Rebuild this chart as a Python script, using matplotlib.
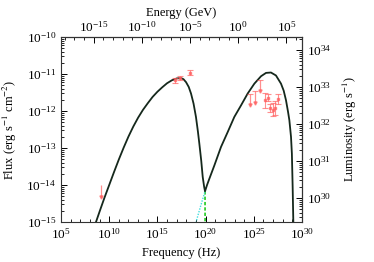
import matplotlib
matplotlib.use("Agg")
import matplotlib.pyplot as plt
import matplotlib.ticker as mticker
import numpy as np

plt.rcParams['font.family'] = ['Liberation Serif', 'DejaVu Serif']
plt.rcParams['mathtext.fontset'] = 'stix'
plt.rcParams['font.size'] = 9

# model curve (total), log10 values
model_lognu = [8.63, 9.0, 9.5, 10.0, 10.5, 11.0, 11.5, 12.0, 12.5, 13.0, 13.5, 14.0,
               14.5, 15.0, 15.5, 16.0, 16.5, 17.0, 17.45, 17.7, 17.97, 18.25, 18.49,
               18.75, 19.0, 19.2, 19.35, 19.55, 19.7, 19.85, 19.94,
               20.15, 20.39, 20.91, 21.6, 22.29, 22.98, 23.67, 24.36, 25.06, 25.75,
               26.27, 26.78, 27.3, 27.82, 28.1, 28.34, 28.55, 28.69, 28.86, 28.95,
               29.03, 29.1]
model_logF = [-15.0, -14.72, -14.35, -14.0, -13.65, -13.31, -12.99, -12.69, -12.42,
              -12.18, -11.97, -11.79, -11.62, -11.48, -11.36, -11.25, -11.17, -11.12,
              -11.11, -11.14, -11.22, -11.35, -11.53, -11.8, -12.16, -12.55, -12.88,
              -13.35, -13.78, -14.05, -14.17,
              -14.0, -13.83, -13.47, -12.97, -12.57, -12.16, -11.85, -11.53, -11.26, -11.06,
              -10.97, -10.96, -11.04, -11.26, -11.45, -11.71, -12.02, -12.25, -12.7, -13.15,
              -14.05, -15.0]

# synchrotron tail (green) and IC tail (cyan) below the dip
sync_lognu = [19.94, 19.95]
sync_logF = [-14.17, -15.3]
ic_lognu = [18.9, 19.45, 19.94]
ic_logF = [-15.1, -14.6, -14.17]

# measured points with errors
pt_lognu = [16.86, 17.38, 18.38, 26.2, 26.44, 26.72, 26.96, 27.17, 27.51]
pt_logF = [-11.17, -11.11, -10.97, -11.71, -11.64, -11.92, -11.96, -11.92, -11.67]
pt_err = [0.06, 0.06, 0.07, 0.2, 0.1, 0.12, 0.18, 0.2, 0.14]

# upper limits
ul_lognu = [9.15, 24.64, 25.16, 25.64]
ul_logF = [-14.0, -11.53, -11.47, -11.15]
ul_len = 0.32

# tick decades
freq_ticks = [5, 10, 15, 20, 25, 30]
energy_ticks = [-15, -10, -5, 0, 5]
flux_ticks = [-15, -14, -13, -12, -11, -10]
lum_ticks = [30, 31, 32, 33, 34]

H_GEV = 4.1357e-24   # GeV s
LUM_FACTOR = 10 ** 44.35

fig = plt.figure(figsize=(3.74, 2.62), dpi=100)
ax = fig.add_axes([61 / 374, 40 / 262, 241 / 374, 185 / 262])

nu = 10 ** np.array(model_lognu)
ax.plot(10 ** np.array(sync_lognu), 10 ** np.array(sync_logF), color='#22cc22', lw=1.2,
        ls=(0, (2, 1.2)))
ax.plot(10 ** np.array(ic_lognu), 10 ** np.array(ic_logF), color='#44dddd', lw=1.0,
        ls=(0, (1, 1)))
ax.plot(nu, 10 ** np.array(model_logF), color='#15281c', lw=1.3)

red = '#ff6060'
pnu = 10 ** np.array(pt_lognu)
pF = 10 ** np.array(pt_logF)
lo = pF - 10 ** (np.array(pt_logF) - np.array(pt_err))
hi = 10 ** (np.array(pt_logF) + np.array(pt_err)) - pF
ax.errorbar(pnu, pF, yerr=[lo, hi], fmt='s', ms=1.8, color=red, ecolor=red, elinewidth=0.8,
            capsize=2, capthick=0.8, alpha=0.7)

unu = 10 ** np.array(ul_lognu)
utop = 10 ** np.array(ul_logF)
utip = 10 ** (np.array(ul_logF) - ul_len)
ax.vlines(unu, utip, utop, color=red, lw=0.9, alpha=0.7)
ax.plot(unu[1:], utop[1:], ls='none', marker='_', ms=4, mew=0.8, color=red, alpha=0.7)
ax.plot(unu, utip, ls='none', marker='v', ms=2.3, color=red, alpha=0.7)


def minor_decades(lo_k, hi_k, subs):
    return [s * 10.0 ** k for k in range(lo_k, hi_k) for s in subs]


ax.set_xscale('log')
ax.set_yscale('log')
ax.set_xlim(1e5, 1e30)
ax.set_ylim(1e-15, 1e-10)
ax.xaxis.set_major_locator(mticker.FixedLocator([10.0 ** k for k in freq_ticks]))
ax.xaxis.set_minor_locator(mticker.FixedLocator([10.0 ** k for k in range(5, 31)]))
ax.yaxis.set_major_locator(mticker.FixedLocator([10.0 ** k for k in flux_ticks]))
ax.yaxis.set_minor_locator(mticker.FixedLocator(minor_decades(-15, -10, range(2, 10))))
ax.xaxis.set_major_formatter(mticker.LogFormatterSciNotation())
ax.yaxis.set_major_formatter(mticker.LogFormatterSciNotation())
ax.xaxis.set_minor_formatter(mticker.NullFormatter())
ax.yaxis.set_minor_formatter(mticker.NullFormatter())
ax.tick_params(which='both', direction='in', labelsize=9.5)
ax.tick_params(which='major', length=4, width=0.7)
ax.tick_params(which='minor', length=2, width=0.6)
ax.set_xlabel('Frequency (Hz)', labelpad=4)
ax.set_ylabel('Flux (erg s$^{-1}$ cm$^{-2}$)', labelpad=5)

top = ax.secondary_xaxis('top', functions=(lambda x: x * H_GEV, lambda e: e / H_GEV))
top.xaxis.set_major_locator(mticker.FixedLocator([10.0 ** k for k in energy_ticks]))
top.xaxis.set_minor_locator(mticker.FixedLocator([10.0 ** k for k in range(-18, 7)]))
top.xaxis.set_major_formatter(mticker.LogFormatterSciNotation())
top.xaxis.set_minor_formatter(mticker.NullFormatter())
top.tick_params(which='both', direction='in', labelsize=9.5, pad=1.5)
top.tick_params(which='major', length=4, width=0.7)
top.tick_params(which='minor', length=2, width=0.6)
top.set_xlabel('Energy (GeV)', labelpad=3)

right = ax.secondary_yaxis('right', functions=(lambda f: f * LUM_FACTOR, lambda l: l / LUM_FACTOR))
right.yaxis.set_major_locator(mticker.FixedLocator([10.0 ** k for k in lum_ticks]))
right.yaxis.set_minor_locator(mticker.FixedLocator(
    [m for m in minor_decades(29, 35, range(2, 10)) if 10 ** 29.36 < m < 10 ** 34.34]))
right.yaxis.set_major_formatter(mticker.LogFormatterSciNotation())
right.yaxis.set_minor_formatter(mticker.NullFormatter())
right.tick_params(which='both', direction='in', labelsize=9.5)
right.tick_params(which='major', length=4, width=0.7)
right.tick_params(which='minor', length=2, width=0.6)
right.set_ylabel('Luminosity (erg s$^{-1}$)', labelpad=7)

for s in ax.spines.values():
    s.set_linewidth(0.8)
    s.set_color('#333333')

fig.savefig('out.png', dpi=100)
